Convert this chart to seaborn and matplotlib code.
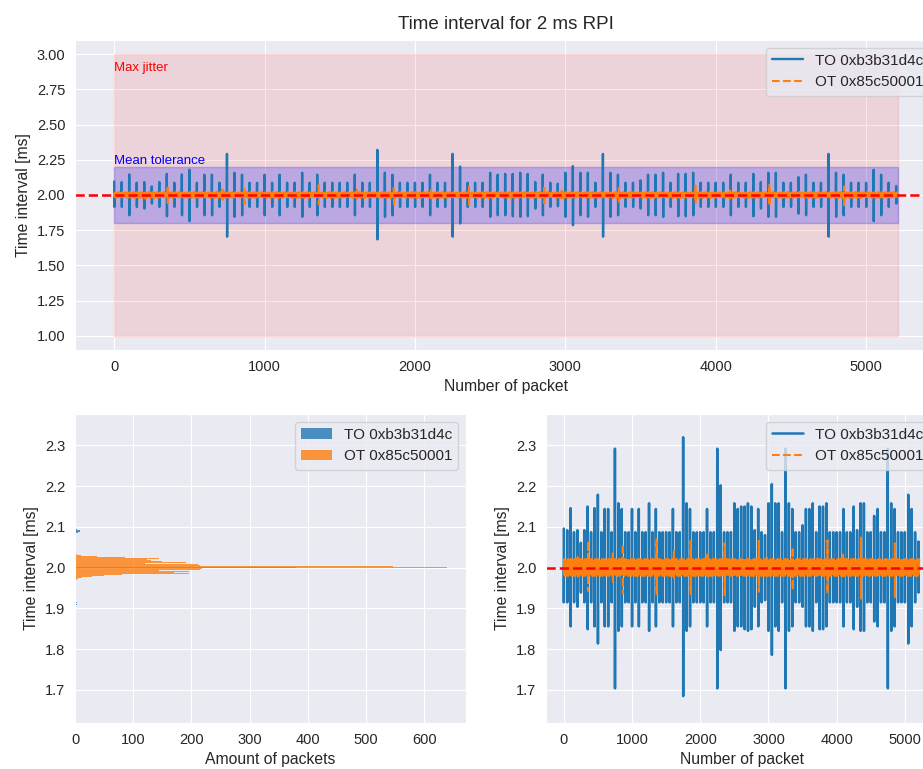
import numpy as np
import pandas as pd
import seaborn as sns
import matplotlib
matplotlib.use("Agg")
import matplotlib.pyplot as plt

# ============ data ============
n_packets = 5212
label_to = "TO 0xb3b31d4c"
label_ot = "OT 0x85c50001"

# TO: interval sits on 2.0 ms, every 50 packets one long/short pair
to_spike_step = 50
to_spike_high = [
    2.096, 2.092, 2.146, 2.087, 2.092, 2.061, 2.092, 2.150, 2.087, 2.146,
    2.179, 2.087, 2.144, 2.144, 2.087, 2.292, 2.158, 2.144, 2.087, 2.087,
    2.144, 2.087, 2.144, 2.087, 2.087, 2.158, 2.087, 2.144, 2.087, 2.087,
    2.087, 2.087, 2.144, 2.087, 2.087, 2.320, 2.158, 2.144, 2.087, 2.087,
    2.087, 2.087, 2.144, 2.087, 2.087, 2.292, 2.202, 2.087, 2.087, 2.087,
    2.158, 2.144, 2.150, 2.150, 2.158, 2.150, 2.092, 2.144, 2.087, 2.080,
    2.158, 2.205, 2.158, 2.158, 2.087, 2.292, 2.158, 2.144, 2.087, 2.087,
    2.104, 2.144, 2.144, 2.158, 2.087, 2.150, 2.150, 2.158, 2.087, 2.087,
    2.087, 2.087, 2.144, 2.087, 2.087, 2.150, 2.092, 2.158, 2.158, 2.087,
    2.087, 2.127, 2.144, 2.087, 2.087, 2.292, 2.158, 2.144, 2.087, 2.087,
    2.087, 2.179, 2.144, 2.087, 2.064,
]
to_spike_low = [
    1.915, 1.915, 1.856, 1.915, 1.904, 1.939, 1.915, 1.849, 1.915, 1.856,
    1.814, 1.915, 1.856, 1.856, 1.915, 1.704, 1.845, 1.856, 1.915, 1.915,
    1.856, 1.915, 1.856, 1.915, 1.915, 1.845, 1.915, 1.856, 1.915, 1.915,
    1.915, 1.915, 1.856, 1.915, 1.915, 1.685, 1.845, 1.856, 1.915, 1.915,
    1.915, 1.915, 1.856, 1.915, 1.915, 1.704, 1.798, 1.915, 1.915, 1.915,
    1.845, 1.856, 1.856, 1.849, 1.845, 1.849, 1.904, 1.856, 1.915, 1.920,
    1.845, 1.786, 1.856, 1.845, 1.915, 1.704, 1.845, 1.856, 1.915, 1.915,
    1.904, 1.856, 1.856, 1.845, 1.915, 1.849, 1.849, 1.856, 1.915, 1.915,
    1.915, 1.915, 1.856, 1.915, 1.915, 1.849, 1.904, 1.845, 1.845, 1.915,
    1.915, 1.868, 1.856, 1.915, 1.915, 1.704, 1.845, 1.856, 1.915, 1.915,
    1.915, 1.814, 1.856, 1.915, 1.939,
]

# OT: small jitter around 2.0 ms (typical run of offsets, ms) plus a few bigger excursions
ot_jitter = [0.004, -0.008, 0.012, -0.003, 0.018, -0.015, 0.001, 0.009, -0.012, 0.021,
             -0.006, 0.003, -0.018, 0.014, -0.001, 0.007, -0.020, 0.011, -0.009, 0.002,
             0.016, -0.013, 0.005, -0.004, 0.000]
ot_spike_at = [204, 356, 720, 866, 1360, 1615, 1860, 2107, 2359, 2860, 2975, 3356, 3866, 4095, 4357, 4854]
ot_spike_high = [2.030, 2.066, 2.040, 2.058, 2.070, 2.040, 2.065, 2.035, 2.060, 2.066, 2.030, 2.050, 2.067, 2.032, 2.074, 2.060]
ot_spike_low = [1.975, 1.943, 1.965, 1.937, 1.935, 1.975, 1.935, 1.975, 1.930, 1.941, 1.975, 1.945, 1.937, 1.975, 1.924, 1.928]

# histogram (bin value [ms], packets), bins 0.0025 ms
ot_hist_ms = [2.0325, 2.030, 2.0275, 2.025, 2.0225, 2.020, 2.0175, 2.015, 2.0125, 2.010,
              2.0075, 2.005, 2.0025, 2.000, 1.9975, 1.995, 1.9925, 1.990, 1.9875, 1.985,
              1.9825, 1.980, 1.9775, 1.975, 1.9725, 1.970, 1.9325]
ot_hist_n = [4, 10, 38, 86, 145, 123, 130, 150, 190, 120,
             211, 215, 546, 640, 218, 215, 145, 196, 170, 196,
             80, 50, 30, 12, 5, 3, 2]
to_hist_ms = [2.0925, 2.090, 2.0875, 2.000, 1.920, 1.915, 1.910, 1.8625, 1.8525]
to_hist_n = [3, 8, 5, 380, 2, 3, 4, 2, 2]

blue = "#1f77b4"
orange = "#ff7f0e"

# ============ build series ============
packets = np.arange(n_packets)
to_vals = np.full(n_packets, 2.0)
for k, (hi, lo) in enumerate(zip(to_spike_high, to_spike_low)):
    p = k * to_spike_step
    to_vals[p] = hi
    if p + 1 < n_packets:
        to_vals[p + 1] = lo

ot_vals = 2.0 + np.resize(np.array(ot_jitter), n_packets)
for p, hi, lo in zip(ot_spike_at, ot_spike_high, ot_spike_low):
    ot_vals[p] = hi
    ot_vals[p + 1] = lo

df = pd.DataFrame({"packet": packets, "to": to_vals, "ot": ot_vals})
hist_to = pd.DataFrame({"ms": to_hist_ms, "n": to_hist_n})
hist_ot = pd.DataFrame({"ms": ot_hist_ms, "n": ot_hist_n})

# ============ plot ============
sns.set_style("darkgrid")
plt.rcParams["font.family"] = ["Liberation Sans", "DejaVu Sans"]
plt.rcParams["xtick.labelsize"] = 10.5
plt.rcParams["ytick.labelsize"] = 10.5
plt.rcParams["axes.labelsize"] = 11.3
plt.rcParams["legend.fontsize"] = 11

W, H = 923, 769
fig = plt.figure(figsize=(W / 100, H / 100), dpi=100)


def px_axes(left, right, top, bottom):
    return fig.add_axes([left / W, (H - bottom) / H, (right - left) / W, (bottom - top) / H])


ax_top = px_axes(75, 937, 40, 350)
ax_hist = px_axes(75, 466, 414, 723)
ax_line = px_axes(546, 937, 414, 723)

# top: time series with tolerance bands
ax_top.fill_between([0, n_packets - 1], 1.0, 3.0, color="red", alpha=0.1)
ax_top.fill_between([0, n_packets - 1], 1.8, 2.2, color="blue", alpha=0.2)
sns.lineplot(data=df, x="packet", y="to", color=blue, lw=1.7, estimator=None,
             label=label_to, ax=ax_top)
sns.lineplot(data=df, x="packet", y="ot", color=orange, lw=1.5, ls="--", estimator=None,
             label=label_ot, ax=ax_top)
ax_top.axhline(2.0, color="red", ls="--", lw=1.8)
ax_top.text(0, 2.88, "Max jitter", color="red", fontsize=9.5)
ax_top.text(0, 2.22, "Mean tolerance", color="blue", fontsize=9.5)
ax_top.set_title("Time interval for 2 ms RPI", fontsize=13.5, pad=8)
ax_top.set_xlabel("Number of packet")
ax_top.set_ylabel("Time interval [ms]")
ax_top.legend(loc="upper right")

# bottom-left: histogram
hist_range = (1.83875, 2.10125)
sns.histplot(data=hist_to, y="ms", weights="n", binwidth=0.0025, binrange=hist_range,
             color=blue, alpha=0.8, linewidth=0, label=label_to, ax=ax_hist)
sns.histplot(data=hist_ot, y="ms", weights="n", binwidth=0.0025, binrange=hist_range,
             color=orange, alpha=0.8, linewidth=0, label=label_ot, ax=ax_hist)
ax_hist.set_xlim(0, 672)
ax_hist.set_ylim(1.619, 2.377)
ax_hist.set_xlabel("Amount of packets")
ax_hist.set_ylabel("Time interval [ms]")
ax_hist.legend(loc="upper right")

# bottom-right: zoomed time series
sns.lineplot(data=df, x="packet", y="to", color=blue, lw=1.8, estimator=None,
             label=label_to, ax=ax_line)
sns.lineplot(data=df, x="packet", y="ot", color=orange, lw=1.5, ls="--", estimator=None,
             label=label_ot, ax=ax_line)
ax_line.axhline(2.0, color="red", ls="--", lw=1.8)
ax_line.set_ylim(1.619, 2.377)
ax_line.set_xlabel("Number of packet")
ax_line.set_ylabel("Time interval [ms]")
ax_line.legend(loc="upper right")

fig.savefig("out.png", dpi=100)
